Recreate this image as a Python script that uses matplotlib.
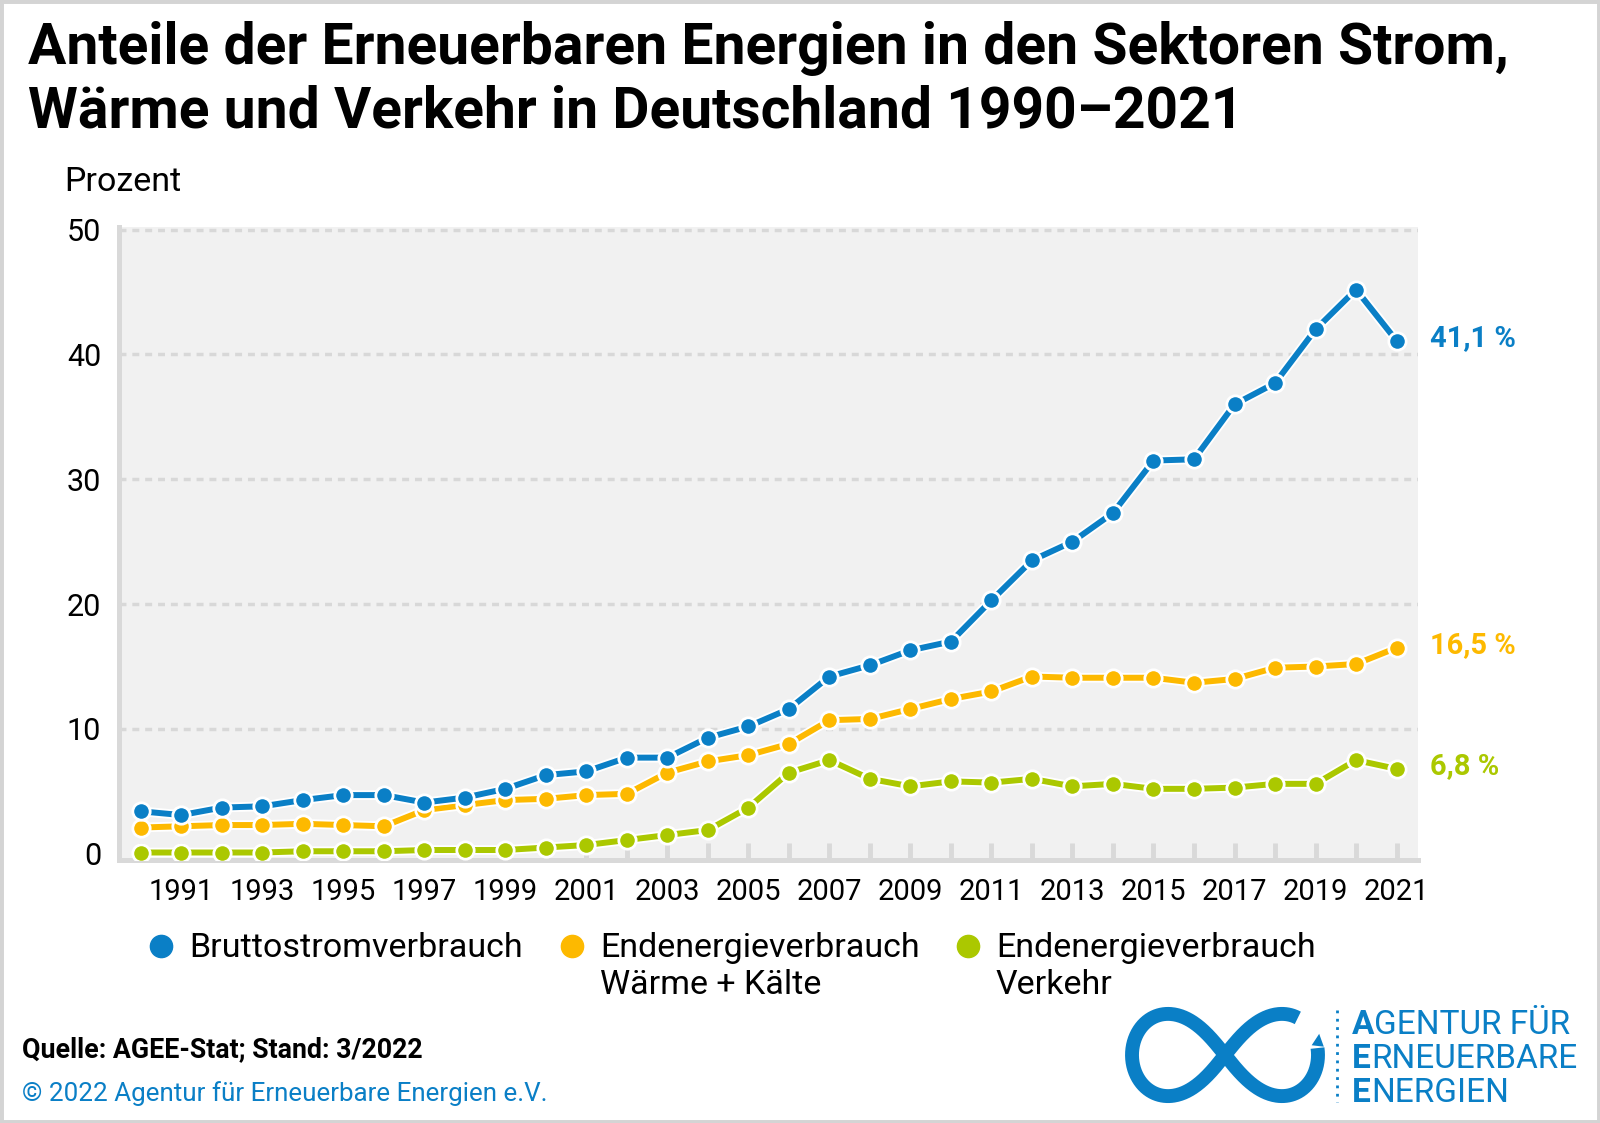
import matplotlib
matplotlib.use('Agg')
import matplotlib.pyplot as plt
import matplotlib.patheffects as pe
from matplotlib.lines import Line2D
from matplotlib.patches import Rectangle
import numpy as np

plt.rcParams['font.family'] = ['Roboto', 'DejaVu Sans']

# Daten (Anteile in Prozent)
jahre = list(range(1990, 2022))
strom = [3.4, 3.1, 3.7, 3.8, 4.3, 4.7, 4.7, 4.1, 4.5, 5.2,
         6.3, 6.6, 7.7, 7.7, 9.3, 10.2, 11.6, 14.2, 15.1, 16.3,
         17.0, 20.3, 23.5, 25.0, 27.3, 31.5, 31.6, 36.0, 37.7, 42.0,
         45.2, 41.1]
waerme = [2.1, 2.2, 2.3, 2.3, 2.4, 2.3, 2.2, 3.5, 3.9, 4.3,
          4.4, 4.7, 4.8, 6.5, 7.4, 7.9, 8.8, 10.7, 10.8, 11.6,
          12.4, 13.0, 14.2, 14.1, 14.1, 14.1, 13.7, 14.0, 14.9, 15.0,
          15.2, 16.5]
verkehr = [0.1, 0.1, 0.1, 0.1, 0.2, 0.2, 0.2, 0.3, 0.3, 0.3,
           0.5, 0.7, 1.1, 1.5, 1.9, 3.7, 6.5, 7.5, 6.0, 5.4,
           5.8, 5.7, 6.0, 5.4, 5.6, 5.2, 5.2, 5.3, 5.6, 5.6,
           7.5, 6.8]

namen = ['Bruttostromverbrauch', 'Endenergieverbrauch\nWärme + Kälte', 'Endenergieverbrauch\nVerkehr']
yticks = [0, 10, 20, 30, 40, 50]

blau = '#0a7fc6'
gelb = '#fdb900'
gruen = '#abc800'
grau = '#d9d9d9'

fig = plt.figure(figsize=(16, 11.23), dpi=100)
ax = fig.add_axes([0.0746, 0.2342, 0.8114, 0.5641])
ax.set_facecolor('#f1f1f1')

# Linien: gruen zuerst, blau oben
serien = [(verkehr, gruen, 3), (waerme, gelb, 4), (strom, blau, 5)]
for werte, farbe, z in serien:
    ax.plot(jahre, werte, color=farbe, lw=4.3, zorder=z, solid_capstyle='round',
            path_effects=[pe.Stroke(linewidth=7, foreground='white'), pe.Normal()])
    ax.plot(jahre, werte, ls='none', marker='o', ms=12.5, mfc=farbe, mec='white',
            mew=2, zorder=z)
    txt = ('%.1f' % werte[-1]).replace('.', ',') + ' %'
    ax.annotate(txt, xy=(jahre[-1], werte[-1]), xytext=(24, 2), textcoords='offset points',
                color=farbe, fontsize=21, fontweight='bold', va='center', ha='left',
                annotation_clip=False)

ax.set_xlim(1989.47, 2021.52)
ax.set_ylim(-0.5, 50.25)
ax.set_xticks(range(1991, 2022, 2))
ax.set_xticks(range(1990, 2022, 2), minor=True)
ax.set_yticks(yticks)
ax.tick_params(axis='x', which='both', direction='in', length=12, width=3.5, color=grau,
               pad=13, labelsize=21)
ax.tick_params(axis='y', length=0, pad=13, labelsize=22)
ax.set_axisbelow(True)
ax.yaxis.grid(True, color='#d8d8d8', lw=2.5, ls=(0, (2, 1.7)))
ax.get_ygridlines()[0].set_visible(False)

for s in ['top', 'right']:
    ax.spines[s].set_visible(False)
for s in ['left', 'bottom']:
    ax.spines[s].set_color(grau)
    ax.spines[s].set_linewidth(3.6)

# Titel und Achsenbeschriftung
fig.text(0.0172, 1 - 64 / 1123, 'Anteile der Erneuerbaren Energien in den Sektoren Strom,',
         fontsize=41, fontweight='bold', va='baseline')
fig.text(0.0172, 1 - 127 / 1123, 'Wärme und Verkehr in Deutschland 1990–2021',
         fontsize=41, fontweight='bold', va='baseline')
fig.text(64 / 1600, 1 - 191 / 1123, 'Prozent', fontsize=24.5, va='baseline')

# Legende
leg_x = [161, 572, 968]
for name, farbe, x in zip(namen, [blau, gelb, gruen], leg_x):
    fig.add_artist(Line2D([x / 1600], [1 - 946 / 1123], transform=fig.transFigure,
                          marker='o', ms=16, mfc=farbe, mec=farbe, ls='none'))
    for i, zeile in enumerate(name.split('\n')):
        fig.text((x + 28) / 1600, 1 - (957 + 37 * i) / 1123, zeile, fontsize=24.5, va='baseline')

# Fusszeile
fig.text(22.5 / 1600, 1 - 1057 / 1123, 'Quelle: AGEE-Stat; Stand: 3/2022', fontsize=19.3,
         fontweight='bold', va='baseline')
fig.text(22.5 / 1600, 1 - 1101 / 1123, '© 2022 Agentur für Erneuerbare Energien e.V.', fontsize=18.7,
         color=blau, va='baseline')

# Logo
lax = fig.add_axes([1115 / 1600, 1 - 1110 / 1123, 220 / 1600, 110 / 1123])
lax.set_xlim(-1.1, 1.1)
lax.set_ylim(-0.55, 0.55)
lax.axis('off')
a, k = 0.93, 1.25
t = np.linspace(0.42, 2 * np.pi + 0.06, 400)
lx = a * np.cos(t) / (1 + np.sin(t) ** 2)
ly = k * a * np.sin(t) * np.cos(t) / (1 + np.sin(t) ** 2)
lax.plot(lx, ly, color=blau, lw=10, solid_capstyle='butt')
lax.annotate('', xy=(lx[-1] + 0.02, ly[-1] + 0.17), xytext=(lx[-1], ly[-1]),
             arrowprops=dict(arrowstyle='-|>', color=blau, lw=0, mutation_scale=22))

fig.add_artist(Line2D([1337 / 1600] * 2, [1 - 1010 / 1123, 1 - 1102 / 1123],
                      transform=fig.transFigure, color=blau, lw=2, ls=(0, (1, 2))))
for i, wort in enumerate(['AGENTUR FÜR', 'ERNEUERBARE', 'ENERGIEN']):
    t1 = fig.text(1352 / 1600, 1 - (1034 + 34 * i) / 1123, wort[0], fontsize=24,
                  fontweight='bold', color=blau, va='baseline')
    ax.annotate(wort[1:], xy=(1, 0), xycoords=t1, fontsize=24, color=blau,
                va='bottom', ha='left', annotation_clip=False)

# Rahmen
fig.add_artist(Rectangle((0, 0), 1, 1, transform=fig.transFigure, fill=False,
                         ec='#d4d4d4', lw=5))

fig.savefig('out.png', dpi=100)
